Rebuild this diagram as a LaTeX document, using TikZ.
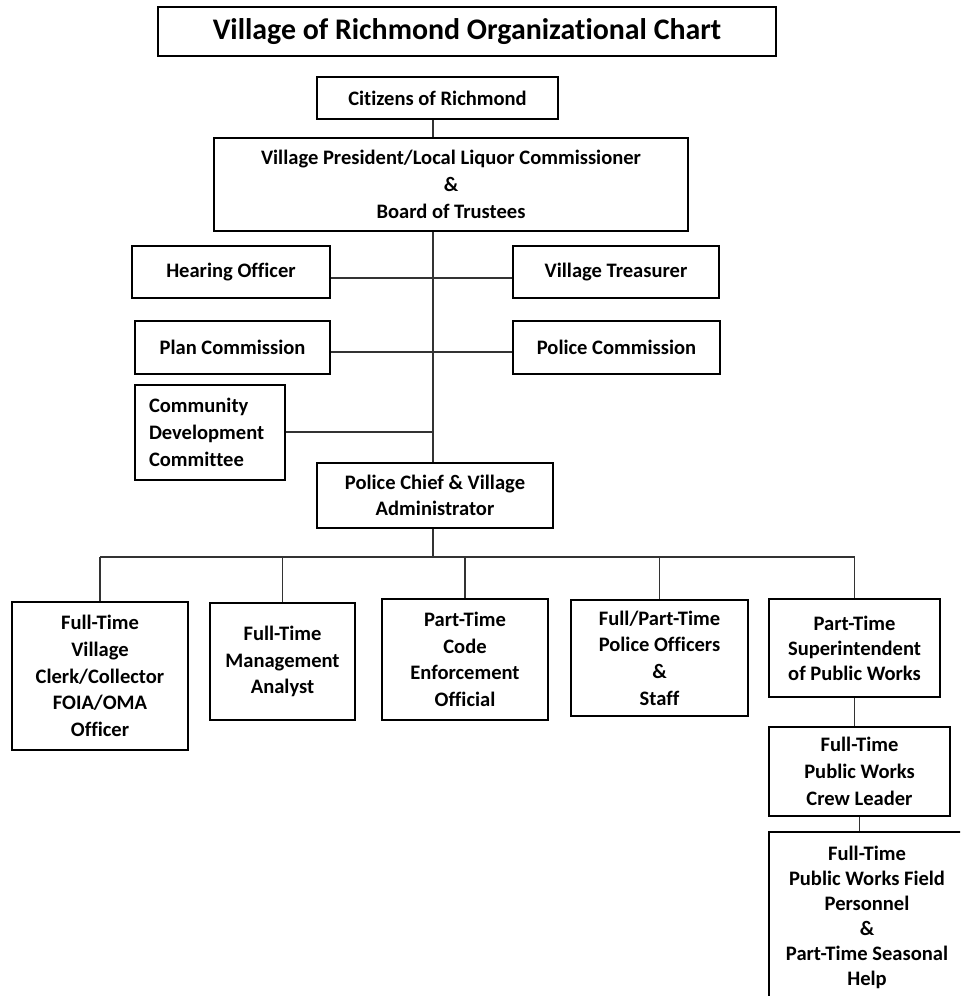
\documentclass[tikz,border=0pt]{standalone}
\usepackage{fontspec}
\setmainfont{Carlito}[Ligatures=NoCommon]
\usepackage{tikz}
\usetikzlibrary{positioning,calc}
\tikzset{
  box/.style={rectangle,draw=black,line width=1.1pt,align=center,inner sep=2pt,
    font=\bfseries\fontsize{11.7}{15.2}\selectfont},
  titlebox/.style={box,font=\bfseries\fontsize{17}{20}\selectfont},
  boxsize/.style 2 args={minimum width=#1*0.02cm,minimum height=#2*0.02cm},
  link/.style={draw=black!80,line width=0.9pt}
}

\begin{document}
\begin{tikzpicture}[x=0.02cm,y=-0.02cm]
  \useasboundingbox (0,0) rectangle (960,996);
  \clip (0,0) rectangle (960,996);
  % top of the chart
  \node[titlebox,boxsize={618}{49}] (title) at (467,31.5) {Village of Richmond Organizational Chart};
  \node[box,boxsize={241}{42}] (citizens) at (437.5,98) {Citizens of Richmond};
  \node[box,boxsize={474}{93}] (president) at (451,184.5)
    {Village President/Local Liquor Commissioner\\\&\\Board of Trustees};
  % boards and commissions
  \node[box,boxsize={198}{52}] (hearing) at (231,272) {Hearing Officer};
  \node[box,boxsize={206}{52}] (treasurer) at (616,272) {Village Treasurer};
  \node[box,boxsize={195}{53}] (plan) at (232.5,347.5) {Plan Commission};
  \node[box,boxsize={207}{53}] (pcomm) at (616.5,347.5) {Police Commission};
  \node[box,boxsize={150}{95},align=left,text width=2.44cm,inner xsep=8pt] (community) at (210,432.5)
    {Community\\Development\\Committee};
  \node[box,boxsize={236}{65}] (chief) at (435,495.5) {Police Chief \& Village\\Administrator};
  % staff
  \node[box,boxsize={176}{148}] (clerk) at (100,676)
    {Full-Time\\Village\\Clerk/Collector\\FOIA/OMA\\Officer};
  \node[box,boxsize={145}{117}] (analyst) at (282.5,661.5) {Full-Time\\Management\\Analyst};
  \node[box,boxsize={166}{121}] (code) at (465,659.5) {Part-Time\\Code\\Enforcement\\Official};
  \node[box,boxsize={177}{116}] (officers) at (659.5,658) {Full/Part-Time\\Police Officers\\\&\\Staff};
  \node[box,boxsize={171}{98},font=\bfseries\fontsize{11.7}{14.2}\selectfont] (super) at (854.5,648)
    {Part-Time\\Superintendent\\of Public Works};
  \node[box,boxsize={181}{89}] (crew) at (859.5,771.5) {Full-Time\\Public Works\\Crew Leader};
  \node[box,boxsize={196}{171},font=\bfseries\fontsize{11.7}{14.2}\selectfont] (field) at (867,917.5)
    {Full-Time\\Public Works Field\\Personnel\\\&\\Part-Time Seasonal\\Help};
  % joints on the spine
  \coordinate (jHear) at (433,278);
  \coordinate (jPlan) at (433,352);
  \coordinate (jComm) at (433,432);
  \coordinate (bus) at (433,557);
  \draw[link] (citizens.south -| jHear) -- (president.north -| jHear);
  \draw[link] (president.south -| jHear) -- (chief.north -| jHear);
  \draw[link] (hearing.east |- jHear) -- (treasurer.west |- jHear);
  \draw[link] (plan.east |- jPlan) -- (pcomm.west |- jPlan);
  \draw[link] (community.east |- jComm) -- (jComm);
  \draw[link] (chief.south -| bus) -- (bus);
  \draw[link] (bus -| clerk.north) -- (bus -| super.north);
  \foreach \n in {clerk,analyst,code,officers,super}
    \draw[link] (bus -| \n.north) -- (\n.north);
  \draw[link] (super.south) -- (super.south |- crew.north);
  \draw[link] (crew.south) -- (crew.south |- field.north);
\end{tikzpicture}
\end{document}
